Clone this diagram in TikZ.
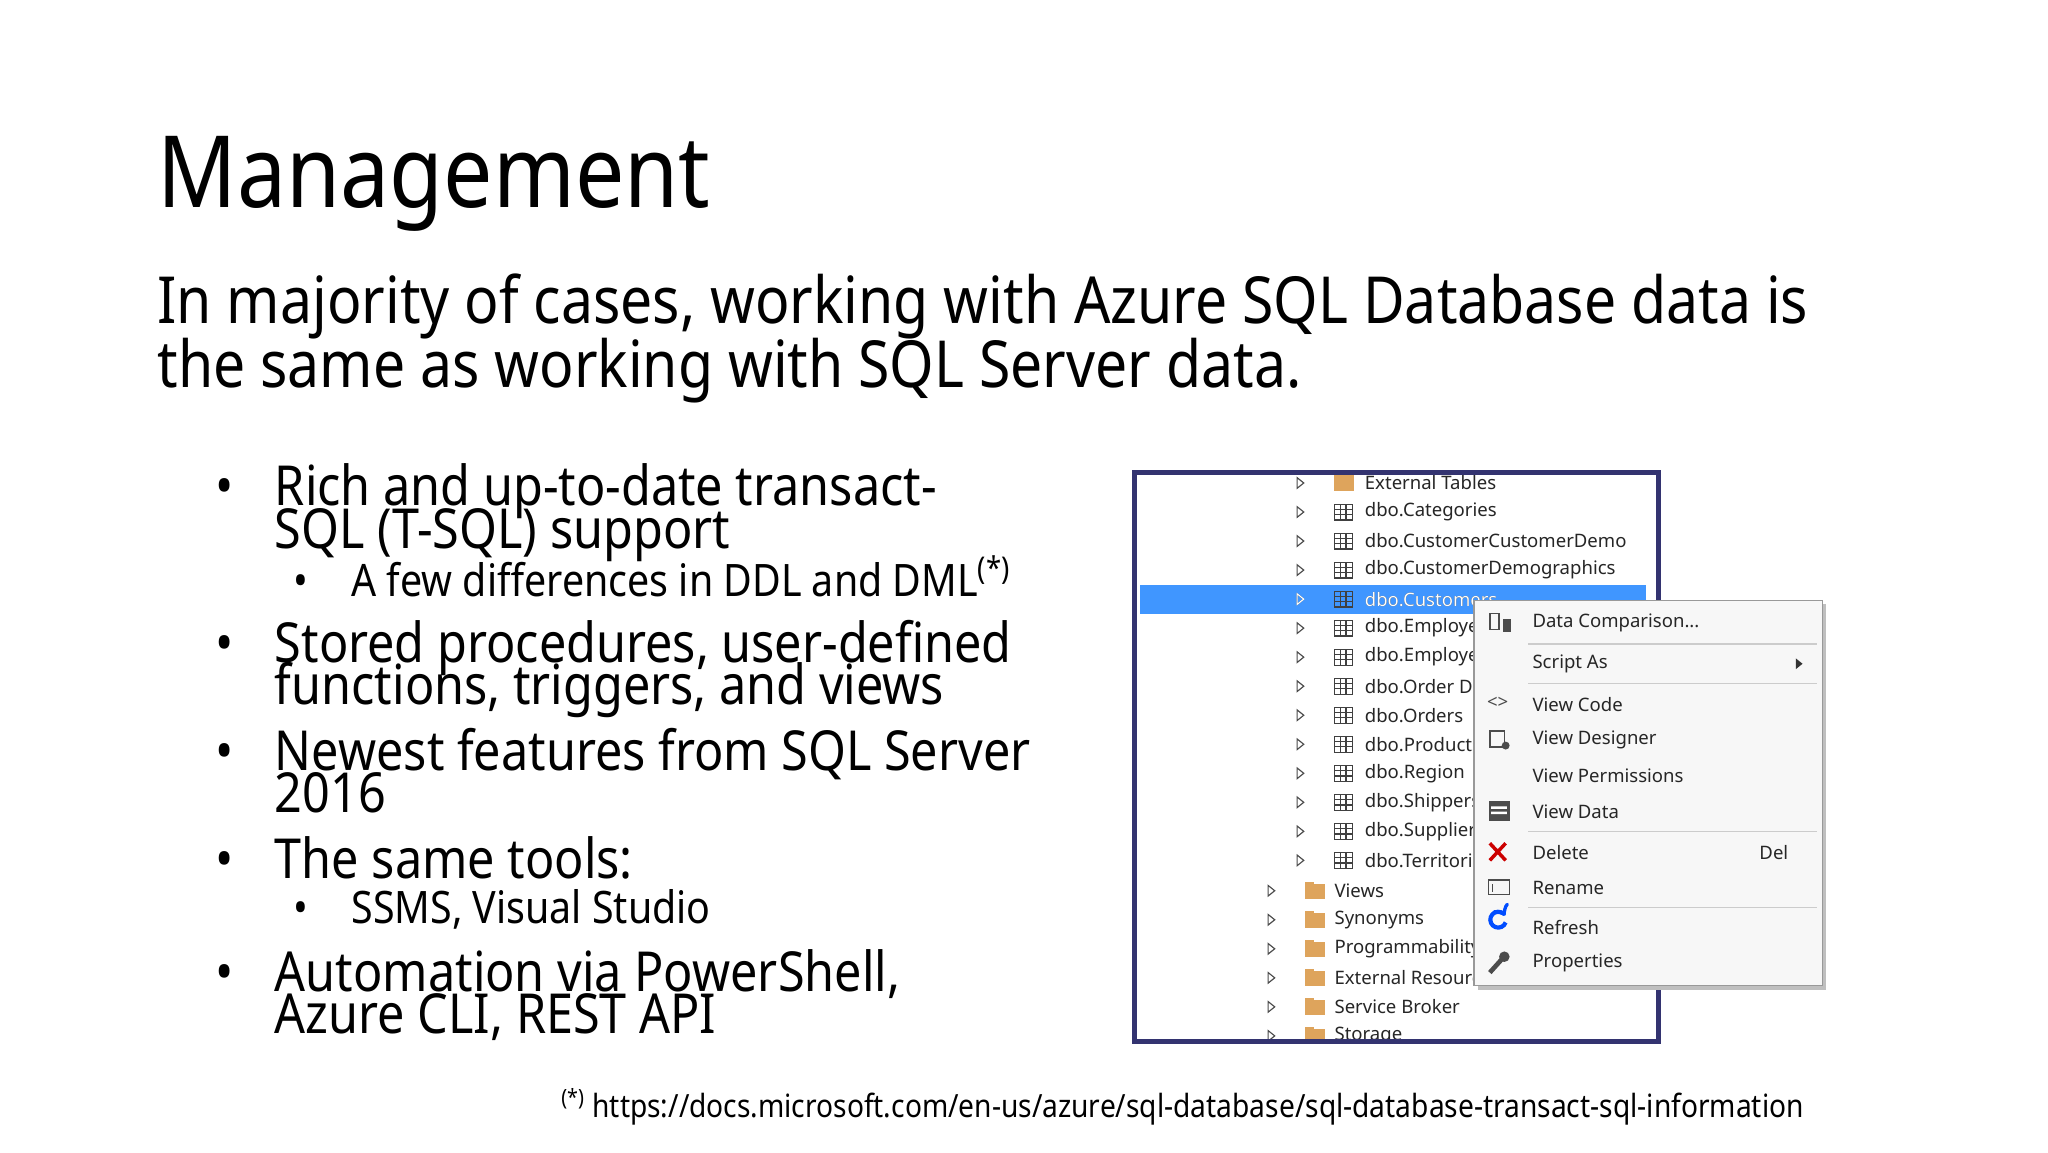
\documentclass[tikz,border=0pt]{standalone}
\usepackage{fontspec}
\setmainfont[FakeStretch=0.88]{Noto Sans}
\newfontfamily\shotfont{Noto Sans}
\definecolor{foldc}{RGB}{222,164,92}
\begin{document}
\begin{tikzpicture}[x=0.02cm,y=-0.02cm,
 txt/.style={anchor=base west,inner sep=0},
 sub/.style={txt,font=\fontsize{28}{28}\selectfont},
 bul/.style={txt,font=\fontsize{23.8}{23.8}\selectfont},
 sbul/.style={txt,font=\fontsize{19.3}{19.3}\selectfont},
 ss/.style={anchor=west,inner sep=0,font=\shotfont\fontsize{8}{8}\selectfont,text=black!85},
 mi/.style={anchor=west,inner sep=0,font=\shotfont\fontsize{8}{8}\selectfont,text=black!85},
 tri/.style={draw=black!70,line width=0.5pt},
 tbl/.style={draw=black!75,line width=0.5pt},
 fold/.style={fill=foldc,draw=none},
 sep/.style={draw=black!20,line width=0.5pt}]
\useasboundingbox (0,0) rectangle (1552,873);
\fill[white] (0,0) rectangle (1552,873);
\node[txt,font=\fontsize{43}{43}\selectfont] (title) at (119,157) {Management};
\node[sub] (s1) at (119,245) {In majority of cases, working with Azure SQL Database data is};
\node[sub] (s2) at (119,294) {the same as working with SQL Server data.};
\foreach \y in {369,488,570,652,737}{\node[bul] at (163,\y+14) {•};}
\node[bul] (b1) at (208,383) {Rich and up-to-date transact-};
\node[bul] (b1b) at (208,416) {SQL (T-SQL) support};
\node[sbul] at (222,452) {•};
\node[sbul] (sb1) at (266,452) {A few differences in DDL and DML\textsuperscript{(*)}};
\node[bul] (b2) at (208,502) {Stored procedures, user-defined};
\node[bul] (b2b) at (208,534) {functions, triggers, and views};
\node[bul] (b3) at (208,584) {Newest features from SQL Server};
\node[bul] (b3b) at (208,616) {2016};
\node[bul] (b4) at (208,666) {The same tools:};
\node[sbul] at (222,700) {•};
\node[sbul] (sb2) at (266,700) {SSMS, Visual Studio};
\node[bul] (b5) at (208,751) {Automation via PowerShell,};
\node[bul] (b5b) at (208,783) {Azure CLI, REST API};
\node[txt,font=\fontsize{13.8}{13.8}\selectfont] (fn) at (425,847) {\textsuperscript{(*)} https://docs.microsoft.com/en-us/azure/sql-database/sql-database-transact-sql-information};
% screenshot
\begin{scope}
\clip (862,360) rectangle (1255,787);
\fill[white] (862,360) rectangle (1255,787);
\fill[blue!55!cyan!75] (864,443) rectangle (1247,465);
\foreach \y/\t in {388/dbo.Categories,410/dbo.CustomerCustomerDemo,432/dbo.CustomerDemographics,454/dbo.Customers,476/dbo.Employees,498/dbo.EmployeeTerritories,520/dbo.Order Details,542/dbo.Orders,564/dbo.Products,586/dbo.Region,608/dbo.Shippers,630/dbo.Suppliers,652/dbo.Territories}{
 \draw[tri] (983,\y-4) -- (988,\y) -- (983,\y+4) -- cycle;
 \draw[tbl] (1011,\y-6) rectangle (1025,\y+6);
 \draw[tbl] (1011,\y-2) -- (1025,\y-2) (1011,\y+2) -- (1025,\y+2) (1016,\y-6) -- (1016,\y+6) (1020,\y-6)--(1020,\y+6);
 \node[ss] at (1034,\y) {\t};}
\node[ss,text=white] at (1034,454) {dbo.Customers};
\draw[tri,draw=white] (983,450) -- (988,454) -- (983,458) -- cycle;
\draw[tri] (983,362) -- (988,366) -- (983,370) -- cycle;
\fill[fold] (1011,360) rectangle (1026,372);
\node[ss] at (1034,366) {External Tables};
\foreach \y/\t in {675/Views,697/Synonyms,719/Programmability,741/External Resources,763/Service Broker,785/Storage}{
 \draw[tri] (961,\y-4) -- (966,\y) -- (961,\y+4) -- cycle;
 \fill[fold] (989,\y-5) rectangle (1004,\y+6);
 \fill[fold] (989,\y-7) rectangle (996,\y-4);
 \node[ss] at (1011,\y) {\t};}
\end{scope}
\draw[draw=blue!30!black!80,line width=2.2pt] (860,358) rectangle (1257,789);
% context menu
\fill[black!25] (1120,458) rectangle (1384,750);
\fill[black!3] (1117,455) rectangle (1381,747);
\draw[black!40,line width=0.6pt] (1117,455) rectangle (1381,747);
\foreach \y in {488,518,630,688}{\draw[sep] (1158,\y) -- (1377,\y);}
\node[mi] at (1161,472) {Data Comparison...};
\node[mi] at (1161,503) {Script As};
\fill[black!80] (1361,499) -- (1366,503) -- (1361,507) -- cycle;
\node[mi] at (1161,534) {View Code};
\node[mi] at (1161,561) {View Designer};
\node[mi] at (1161,588) {View Permissions};
\node[mi] at (1161,615) {View Data};
\node[mi] at (1161,646) {Delete};
\node[mi] at (1333,646) {Del};
\node[mi] at (1161,673) {Rename};
\node[mi] at (1161,703) {Refresh};
\node[mi] at (1161,730) {Properties};
% icons
\draw[black!70,line width=0.6pt] (1129,465) rectangle (1136,477); \fill[black!70] (1139,469) rectangle (1145,479);
\node[font=\shotfont\fontsize{8}{8}\selectfont\bfseries,text=black!70] at (1135,533) {<>};
\draw[black!70,line width=0.6pt] (1129,554) rectangle (1140,566); \fill[black!70] (1141,565) circle (3);
\fill[black!70] (1128,607) rectangle (1144,622); \fill[white] (1130,611) rectangle (1142,613) (1130,615) rectangle (1142,617);
\draw[red!80!black,line width=1.5pt] (1129,639) -- (1141,652) (1141,639) -- (1129,652);
\draw[black!70,line width=0.6pt] (1128,667) rectangle (1144,678); \draw[black!70] (1131,670)--(1131,676);
\draw[blue!70!cyan,line width=1.8pt,->] (1141,699) arc (20:330:6);
\draw[black!70,line width=2pt] (1129,737) -- (1138,727); \fill[black!70] (1140,725) circle (4);
\end{tikzpicture}
\end{document}
